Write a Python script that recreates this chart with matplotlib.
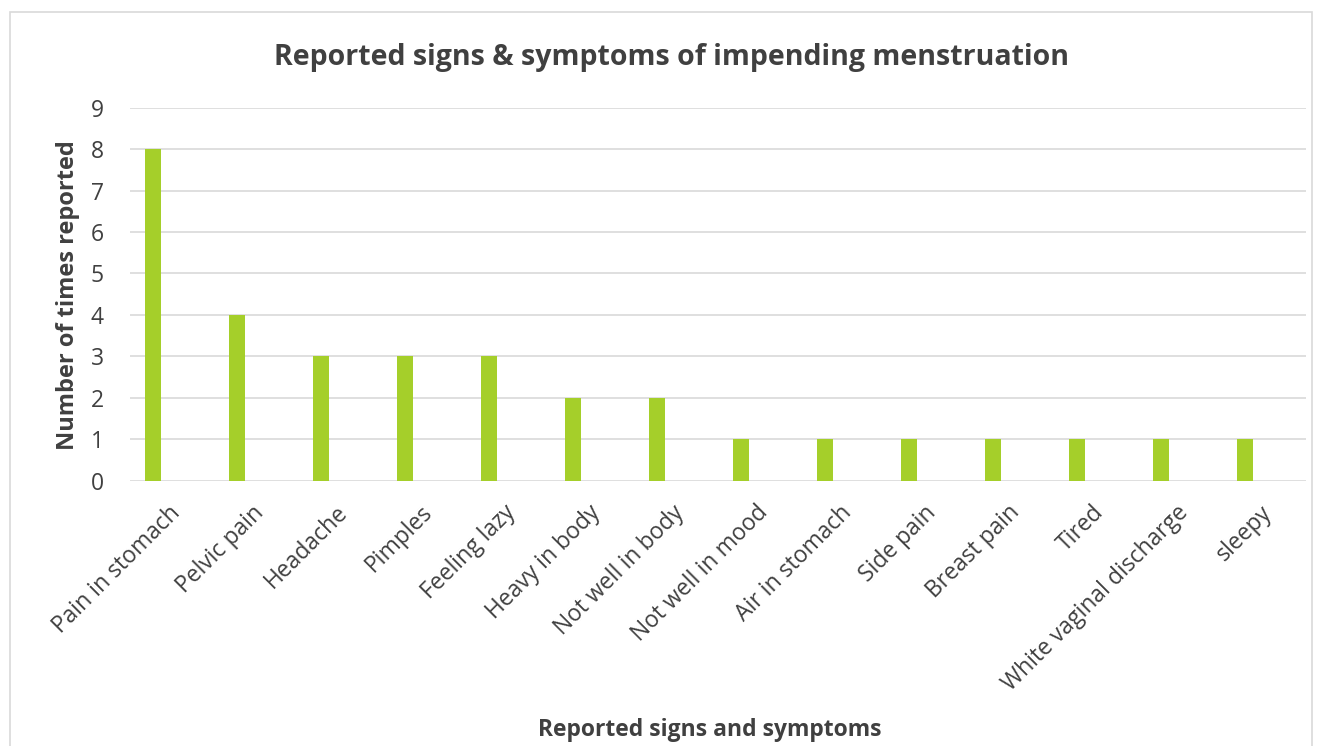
import matplotlib
matplotlib.use("Agg")
import matplotlib.pyplot as plt
import matplotlib.transforms as mtransforms
from matplotlib.patches import Rectangle

symptoms = ["Pain in stomach", "Pelvic pain", "Headache", "Pimples", "Feeling lazy",
            "Heavy in body", "Not well in body", "Not well in mood", "Air in stomach",
            "Side pain", "Breast pain", "Tired", "White vaginal discharge", "sleepy"]
counts = [8, 4, 3, 3, 3, 2, 2, 1, 1, 1, 1, 1, 1, 1]
y_ticks = list(range(0, 10))

plt.rcParams["font.family"] = ["Open Sans", "DejaVu Sans"]
TXT = "#404040"
BAR = "#A5CF2A"

fig = plt.figure(figsize=(13.22, 7.46), dpi=100)
ax = fig.add_axes([130 / 1322, 1 - 480.6 / 746, (1306 - 130) / 1322, (480.6 - 107.7) / 746])

# chart border like the Excel chart area
fig.patches.append(Rectangle((10 / 1322, -0.05), 1302 / 1322, 1.05 - 12 / 746,
                             transform=fig.transFigure, fill=False,
                             edgecolor="#D9D9D9", linewidth=1.2))

x = range(len(symptoms))
ax.bar(x, counts, width=0.18, color=BAR, zorder=3)

ax.set_xlim(-0.274, 13.726)
ax.set_ylim(0, 9)
ax.set_yticks(y_ticks)
ax.yaxis.grid(True, color="#D9D9D9", linewidth=1.2, zorder=0)
for s in ax.spines.values():
    s.set_visible(False)
ax.tick_params(axis="both", length=0, colors=TXT, labelsize=16.5)
ax.tick_params(axis="y", pad=19)
ax.set_xticks(list(x))
ax.set_xticklabels(symptoms, rotation=45, ha="right", rotation_mode="anchor")
ax.tick_params(axis="x", pad=8)
shift = mtransforms.ScaledTranslation(0.15, -0.09, fig.dpi_scale_trans)
for lab in ax.get_xticklabels():
    lab.set_transform(lab.get_transform() + shift)

fig.text(672 / 1322, 1 - 58 / 746, "Reported signs & symptoms of impending menstruation",
         ha="center", va="center", fontsize=20.5, fontweight="bold", color=TXT)
fig.text(68 / 1322, 1 - 295 / 746, "Number of times reported", rotation=90,
         ha="center", va="center", fontsize=17, fontweight="bold", color=TXT)
fig.text(710 / 1322, 1 - 730 / 746, "Reported signs and symptoms",
         ha="center", va="center", fontsize=16.5, fontweight="bold", color=TXT)

fig.savefig("out.png", dpi=100)
